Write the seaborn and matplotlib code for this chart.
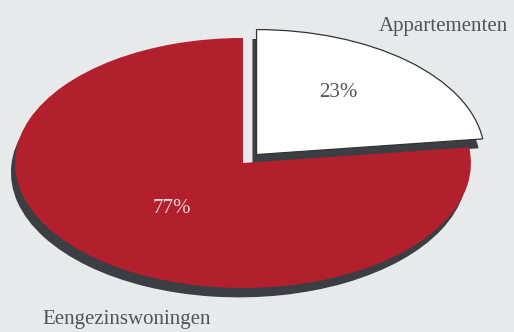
import matplotlib
matplotlib.use("Agg")
import matplotlib.pyplot as plt
import seaborn as sns

categories = ["Eengezinswoningen", "Appartementen"]
values = [77, 23]
pct_labels = ["77%", "23%"]

sns.set_theme(style="white")
plt.rcParams['font.family'] = ['Liberation Serif', 'DejaVu Serif']

bg = "#e7e9eb"
red = "#b21f2d"
shadow = "#3b3e42"
colors = [red, "#ffffff"]

fig = plt.figure(figsize=(5.14, 3.32), dpi=100, facecolor=bg)
ax = fig.add_axes([0, 0, 1, 1])
ax.set_facecolor(bg)

explode = [0, 0.09]
# shadow
ax.pie(values, startangle=90, counterclock=True, explode=explode,
       colors=[shadow, shadow], center=(-0.018, -0.075),
       wedgeprops=dict(linewidth=0), frame=False)
wedges, texts, autotexts = ax.pie(
    values, startangle=90, counterclock=True, explode=explode,
    colors=colors, autopct=lambda p: f"{p:.0f}%", pctdistance=0.5,
    wedgeprops=dict(linewidth=0), textprops=dict(fontsize=15), frame=False)
wedges[1].set_edgecolor("#333333")
wedges[1].set_linewidth(0.9)

autotexts[0].set_color("#f3d6d6")
autotexts[1].set_color("#555555")
x, y = autotexts[1].get_position()
autotexts[1].set_position((x + 0.03, y + 0.12))
x, y = autotexts[0].get_position()
autotexts[0].set_position((x + 0.02, y + 0.01))

ax.set_aspect("auto")
ax.set_xlim(-1.066, 1.189)
ax.set_ylim(-1.352, 1.304)
ax.axis("off")

ax.text(0.88, 1.09, categories[1], ha="center", va="center",
        fontsize=15, color="#505458")
ax.text(-0.51, -1.255, categories[0], ha="center", va="center",
        fontsize=15, color="#505458")

fig.savefig("out.png", dpi=100, facecolor=bg)
